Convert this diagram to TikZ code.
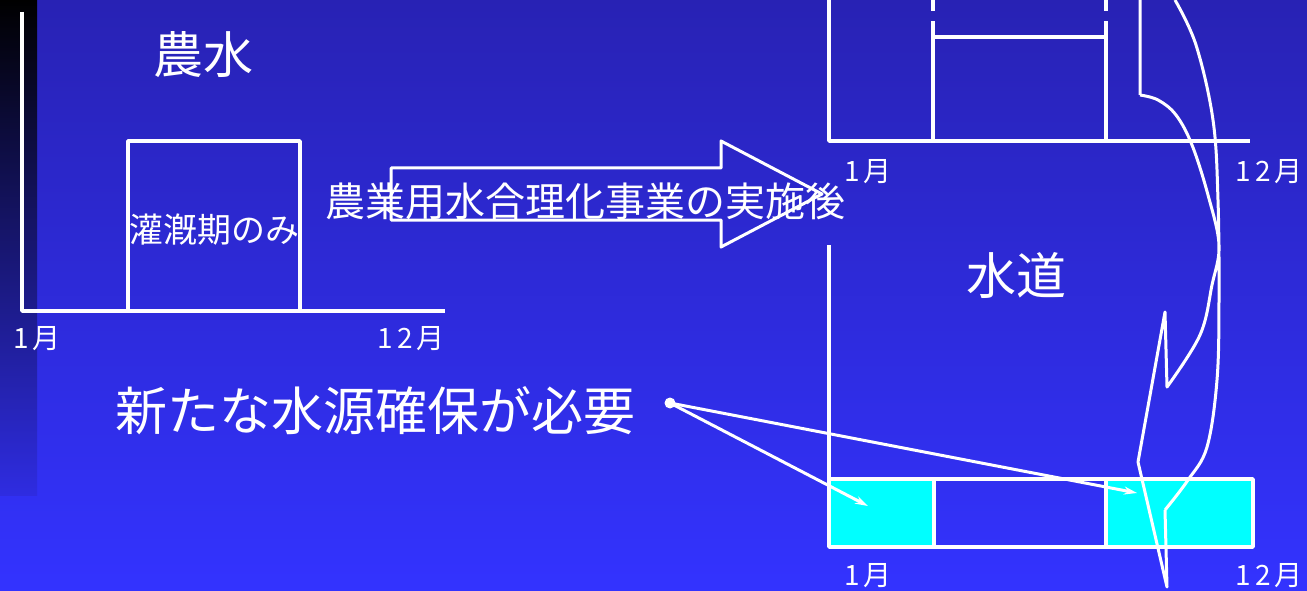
\documentclass[tikz,border=0pt]{standalone}
\usepackage{fontspec}
\setmainfont{Noto Sans CJK JP}
\usepackage{tikz}
\usetikzlibrary{arrows.meta,positioning}

\definecolor{bgtop}{RGB}{40,34,180}
\definecolor{bgbot}{RGB}{51,51,255}
\definecolor{cell}{RGB}{0,255,255}

\begin{document}
\begin{tikzpicture}[
    x=1pt,y=-1pt,
    line join=round,
    chart/.style={draw=white,line width=3.5pt},
    title/.style={text=white,inner sep=0pt,font=\fontsize{50}{50}\selectfont},
    month/.style={text=white,inner sep=0pt,font=\fontsize{28}{28}\selectfont},
    note/.style={text=white,inner sep=0pt,font=\fontsize{40}{40}\selectfont},
    pointer/.style={draw=white,line width=3pt,-{Stealth[length=13pt,width=8pt]}}
]
    % Background
    \fill[top color=bgtop,bottom color=bgbot] (0,0) rectangle (1307,591);
    \fill[top color=black,bottom color=bgtop!40!bgbot] (0,0) rectangle (37,495);
    \useasboundingbox (0,0) rectangle (1307,591);

    % Agricultural water chart
    \draw[chart] (22,12) -- (22,311) -- (445,311);
    \draw[chart] (128,311) -- (128,141) -- (300,141) -- (300,311);
    \node[title] (NOSUI) at (203,55) {農水};
    \node[text=white,inner sep=0pt,font=\fontsize{34}{34}\selectfont] (KANGAI) at (214,230) {灌漑期のみ};
    \node[month] (L1) at (37,339) {1\hspace{4pt}月};
    \node[month] (L12) at (411,339) {1\hspace{4pt}2\hspace{3pt}月};

    % Block arrow
    \draw[chart,line width=3pt] (391,168) -- (721,168) -- (721,141) -- (822,194)
        -- (721,247) -- (721,220) -- (391,220) -- cycle;
    \node[note] (JIGYO) at (585,201) {農業用水合理化事業の実施後};

    % Water supply, upper chart
    \draw[chart] (829,0) -- (829,141) -- (1250,141);
    \draw[chart] (933,141) -- (933,37) -- (1106,37) -- (1106,141);
    \draw[chart,dash pattern=on 16pt off 10pt] (933,37) -- (933,0);
    \draw[chart,dash pattern=on 16pt off 10pt] (1106,37) -- (1106,0);
    \node[month] (U1) at (868,172) {1\hspace{4pt}月};
    \node[month] (U12) at (1269,172) {1\hspace{4pt}2\hspace{3pt}月};

    % Water supply, lower chart
    \fill[cell] (829,479) rectangle (934,547);
    \fill[cell] (1106,479) rectangle (1253,547);
    \draw[chart] (829,245) -- (829,547) -- (1253,547) -- (1253,479) -- (829,479);
    \draw[chart] (934,479) -- (934,547);
    \draw[chart] (1106,479) -- (1106,547);
    \node[title] (SUIDO) at (1016,276) {水道};
    \node[month] (B1) at (868,576) {1\hspace{4pt}月};
    \node[month] (B12) at (1269,576) {1\hspace{4pt}2\hspace{3pt}月};

    % Curved arrow
    \draw[white,line width=3pt]
        (1140,0) -- (1140,95)
        plot[smooth,tension=0.6] coordinates {(1140,95) (1158,100) (1176,115) (1192,145)
            (1208,195) (1219,245) (1212,285) (1200,335) (1167,387)}
        -- (1165,312) -- (1138,462) -- (1167,587) -- (1165,510)
        plot[smooth,tension=0.6] coordinates {(1165,510) (1188,480) (1207,447) (1217,380)
            (1219,300) (1218,200) (1213,120) (1196,45) (1175,0)};

    % Need for new water sources
    \node[title,font=\fontsize{52}{52}\selectfont] (HITSUYO) at (375,411) {新たな水源確保が必要};
    \node[circle,fill=white,inner sep=0pt,minimum size=11pt] (DOT) at (670,403) {};
    \coordinate (CELL1) at (868,506);
    \coordinate (CELL2) at (1137,493);
    \draw[pointer] (DOT.center) -- (CELL1);
    \draw[pointer] (DOT.center) -- (CELL2);
\end{tikzpicture}
\end{document}
